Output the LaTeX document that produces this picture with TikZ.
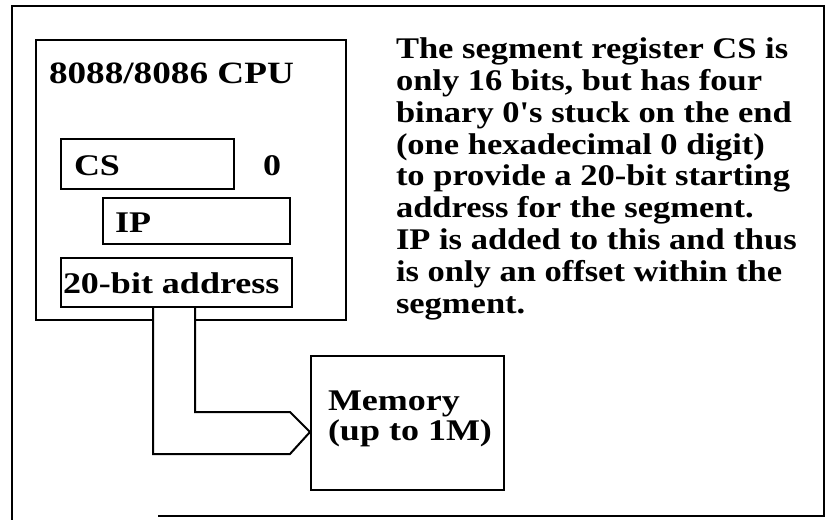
\documentclass[tikz,border=0pt]{standalone}
\usepackage{fontspec}
\setmainfont{Liberation Serif}[FakeStretch=1.15,Ligatures=TeXOff]
\newfontfamily\lblfont{Liberation Serif}[FakeStretch=1.2,Ligatures=TeXOff]
\begin{document}
\begin{tikzpicture}[x=1pt,y=-1pt,line width=2pt,line join=miter,
  box/.style={draw,rectangle,inner sep=0pt,anchor=north west},
  lbl/.style={anchor=base west,inner sep=0pt,font=\lblfont\fontsize{30}{32}\selectfont\bfseries},
  para/.style={anchor=north west,inner sep=0pt,align=left,font=\fontsize{30}{31.9}\selectfont\bfseries}]
\useasboundingbox (0,0) rectangle (831,520);
% outer frame
\coordinate (f1) at (158,516);
\coordinate (f2) at (824,516);
\coordinate (f3) at (824,6);
\coordinate (f4) at (12,6);
\coordinate (f5) at (12,520);
\draw[line width=1.6pt] (f1) -- (f2) -- (f3) -- (f4) -- (f5);
% CPU box (open at the bus)
\node[box,draw=none,minimum width=308pt,minimum height=278pt] (cpu) at (36,40) {};
\node[box,minimum width=173pt,minimum height=50pt] (cs) at (60,138) {};
\node[box,minimum width=187pt,minimum height=46pt] (ip) at (102,197) {};
\node[box,minimum width=231pt,minimum height=49pt] (addr) at (60,257) {};
\node[box,minimum width=193pt,minimum height=134pt] (mem) at (310,355) {};
\coordinate (bl) at (153,306);
\coordinate (br) at (195,306);
\draw (bl |- cpu.south) -- (cpu.south west) -- (cpu.north west) -- (cpu.north east) -- (cpu.south east) -- (br |- cpu.south);
% bus
\coordinate (tip) at (mem.west |- 0,432);
\coordinate (lo) at (290,454);
\coordinate (hi) at (290,412);
\draw (bl) -- (bl |- lo) -- (lo) -- (tip) -- (hi) -- (br |- hi) -- (br);
% labels
\node[lbl,font=\lblfont\fontsize{31}{32}\selectfont\bfseries] (title) at (48,83) {8088/8086 CPU};
\node[lbl] (cst) at (73,175) {CS};
\node[lbl] (zero) at (262,175) {0};
\node[lbl] (ipt) at (114,232) {IP};
\node[lbl] (addrt) at (62,293) {20-bit address};
\node[lbl] (memt1) at (327,410) {Memory};
\node[lbl] (memt2) at (327,440) {(up to 1M)};
\node[para] (desc) at (395,36.5) {The segment register CS is\\
only 16 bits, but has four\\
binary 0's stuck on the end\\
(one hexadecimal 0 digit)\\
to provide a 20-bit starting\\
address for the segment.\\
IP is added to this and thus\\
is only an offset within the\\
segment.};
\end{tikzpicture}
\end{document}
